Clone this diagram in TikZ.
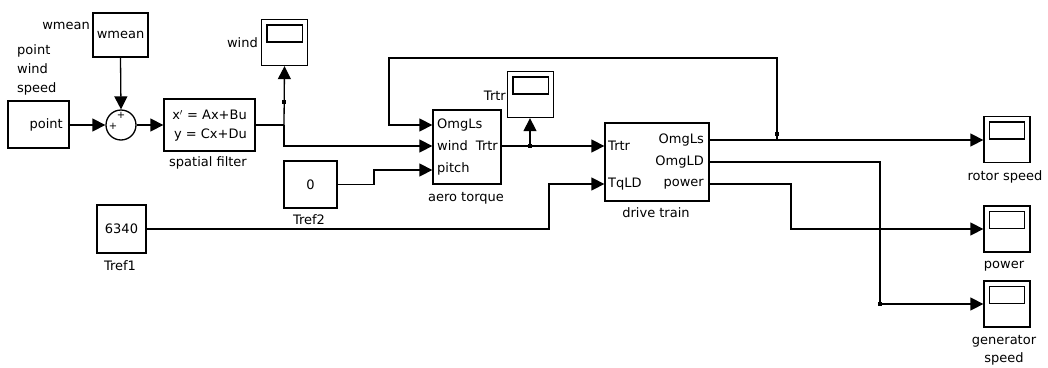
\documentclass[tikz,border=0pt]{standalone}
\usepackage{fontspec}
\setmainfont{DejaVu Sans}
\usetikzlibrary{arrows.meta,calc}
\begin{document}
\begin{tikzpicture}[x=1pt,y=-1pt,
  every node/.style={font=\fontsize{13}{15}\selectfont, inner sep=0pt},
  blk/.style={draw, line width=1.3pt, rectangle, inner sep=0pt},
  scopebox/.style={blk, minimum width=46pt, minimum height=46pt},
  wire/.style={line width=1.3pt},
  sig/.style={wire, -{Triangle[length=13pt,width=13pt]}},
  dotmark/.style={fill, rectangle, minimum size=4.5pt, inner sep=0pt},
  small/.style={font=\fontsize{10}{12}\selectfont}
]
\fill[white] (0,0) rectangle (1048,367);
\useasboundingbox (0,0) rectangle (1048,367);

% ---- blocks ----
\node[blk, minimum width=55pt, minimum height=44pt] (wmean) at (120.5,35) {wmean};
\node[anchor=east] (wmeanlbl) at (90,26) {wmean};
\node[anchor=north west, align=left, font=\fontsize{13}{19}\selectfont] (pwslbl) at (17,44) {point\\wind\\speed};
\node[blk, minimum width=61pt, minimum height=47pt] (point) at (38.5,124.5) {};
\node[anchor=east] (pointtxt) at (63,125) {point};

\node[draw, circle, line width=1.3pt, minimum size=30pt] (sum) at (121,125) {};
\node[small] (plusA) at (121,115.5) {+};
\node[small] (plusB) at (113,126) {+};

\node[blk, minimum width=91pt, minimum height=52pt] (sf) at (209.5,125) {};
\node[anchor=east, align=right, font=\fontsize{13}{19}\selectfont] (sftxt) at (247,125.5) {x$'$ = Ax+Bu\\y = Cx+Du};
\node (sflbl) at (208,163) {spatial filter};

\node[scopebox] (ws) at (284.5,42.5) {};
\node[anchor=east] (wslbl) at (258,43) {wind};

\node[blk, minimum width=68pt, minimum height=74pt] (at) at (467,147) {};
\node[anchor=west] (atp1) at (437,125) {OmgLs};
\node[anchor=west] (atp2) at (437,146) {wind};
\node[anchor=west] (atp3) at (437,169) {pitch};
\node[anchor=east] (atout) at (498,146) {Trtr};
\node (atlbl) at (466,198) {aero torque};

\node[scopebox] (ts) at (530.5,94.5) {};
\node[anchor=east] (tslbl) at (506,96) {Trtr};

\node[blk, minimum width=53pt, minimum height=47pt] (tref2) at (310.5,184.5) {0};
\node (tref2lbl) at (309,220) {Tref2};

\node[blk, minimum width=49pt, minimum height=48pt] (tref1) at (121.5,229) {6340};
\node (tref1lbl) at (120,266) {Tref1};

\node[blk, minimum width=104pt, minimum height=78pt] (dt) at (657,162) {};
\node[anchor=west] (dtin1) at (608,146) {Trtr};
\node[anchor=west] (dtin2) at (608,184) {TqLD};
\node[anchor=east] (dto1) at (704,140) {OmgLs};
\node[anchor=east] (dto2) at (704,162) {OmgLD};
\node[anchor=east] (dto3) at (704,184) {power};
\node (dtlbl) at (656,213) {drive train};

\node[scopebox] (rs) at (1007,139.5) {};
\node (rslbl) at (1005,177) {rotor speed};
\node[scopebox] (ps) at (1007,229) {};
\node (pslbl) at (1004,266) {power};
\node[scopebox] (gs) at (1007,304) {};
\node[align=center, font=\fontsize{13}{18}\selectfont] (gslbl) at (1004,350) {generator\\speed};

% scope screens
\foreach \s in {ws,ts,rs,ps,gs}{
  \draw[wire] ([shift={(6pt,-6pt)}]\s.north west) rectangle ([shift={(-6pt,-23pt)}]\s.north east);
}

% ---- port coordinates ----
\coordinate (atIn1) at (at.west |- 0,125);
\coordinate (atIn2) at (at.west |- 0,146);
\coordinate (atIn3) at (at.west |- 0,170);
\coordinate (dtIn1) at (dt.west |- 0,146);
\coordinate (dtIn2) at (dt.west |- 0,184);
\coordinate (dtOut1) at (dt.east |- 0,140);
\coordinate (dtOut2) at (dt.east |- 0,162);
\coordinate (dtOut3) at (dt.east |- 0,184);
\coordinate (wb) at (284,125);
\coordinate (tb) at (530,146);
\coordinate (fb) at (777,140);
\coordinate (gb) at (880,304);

% ---- connectors ----
\draw[sig] (point.east |- sum.west) -- (sum.west);
\draw[sig] (wmean.south) -- (sum.north);
\draw[sig] (sum.east) -- (sf.west |- sum.east);
\draw[wire] (sf.east |- 0,125) -- (wb);
\draw[sig] (wb) -- (ws.south);
\draw[sig] (wb) |- (atIn2);
\node[dotmark] (d1) at (284,102) {};

\draw[sig] (fb) -- (777,58) -- (389,58) |- (atIn1);
\node[dotmark] (d2) at (777,134) {};

\draw[sig] (at.east |- 0,146) -- (dtIn1);
\draw[sig] (tb) -- (ts.south -| tb);
\node[dotmark] (d3) at (tb) {};

\draw[sig] (tref2.east) -- (374,184.5) -- (374,170) -- (atIn3);
\draw[sig] (tref1.east) -- (549,229) -- (549,184) -- (dtIn2);

\draw[sig] (dtOut1) -- (rs.west |- dtOut1);
\draw[sig] (dtOut2) -- (880,162) -- (gb) -- (gs.west |- gb);
\node[dotmark] (d4) at (gb) {};
\draw[sig] (dtOut3) -- (791,184) -- (791,229) -- (ps.west |- 0,229);
\end{tikzpicture}
\end{document}
